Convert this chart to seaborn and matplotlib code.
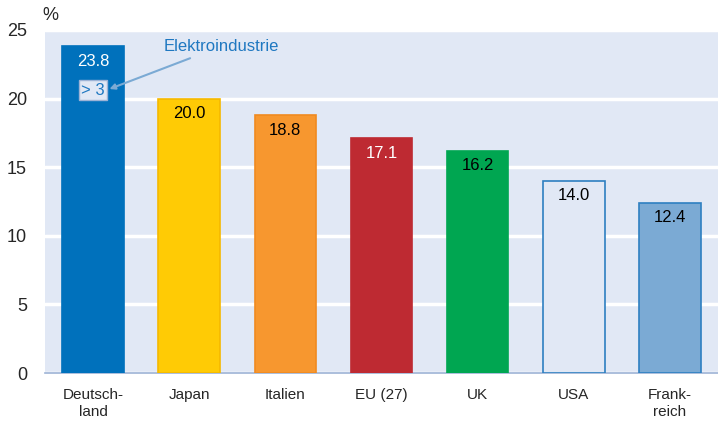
import matplotlib
matplotlib.use("Agg")
import matplotlib.pyplot as plt
import seaborn as sns
import pandas as pd

categories = ["Deutsch-\nland", "Japan", "Italien", "EU (27)", "UK", "USA", "Frank-\nreich"]
values = [23.8, 20.0, 18.8, 17.1, 16.2, 14.0, 12.4]
face_colors = ["#0071BC", "#FFCB05", "#F7972F", "#BE2A32", "#00A651", "#E1E8F5", "#7BAAD4"]
edge_colors = ["#0071BC", "#F5B800", "#F08A20", "#BE2A32", "#00A651", "#2E7FC1", "#2E7FC1"]
label_colors = ["white", "black", "black", "white", "black", "black", "black"]
yticks = [0, 5, 10, 15, 20, 25]

sns.set_theme(style="white")
plt.rcParams['font.family'] = ['Liberation Sans', 'DejaVu Sans']

df = pd.DataFrame({"cat": categories, "val": values})

fig = plt.figure(figsize=(7.18, 4.21), dpi=100)
ax = fig.add_axes([45/718, 1 - 373/421, 673/718, (373-30)/421])
bg = "#E1E8F5"
ax.set_facecolor(bg)

sns.barplot(data=df, x="cat", y="val", hue="cat", palette=face_colors, legend=False,
            width=0.64, ax=ax, saturation=1, zorder=3)
for p, ec in zip(ax.patches, edge_colors):
    p.set_edgecolor(ec)
    p.set_linewidth(1.2)

ax.set_ylim(0, 25)
ax.set_xlim(-0.5, 6.44)
ax.set_yticks(yticks)
ax.set_yticklabels([str(t) for t in yticks], fontsize=13)
ax.yaxis.grid(True, color="white", linewidth=2.5, zorder=1)
ax.set_axisbelow(True)
ax.tick_params(axis="y", length=0, pad=13)
ax.set_xticks([i - 0.5 for i in range(8)], minor=False)
ax.set_xticklabels([])
ax.set_xticks(range(7), minor=True)
ax.set_xticklabels(categories, minor=True, fontsize=11, linespacing=1.25)
ax.tick_params(axis="x", which="major", length=5, color="#9DB3D6", direction="out", width=1)
ax.tick_params(axis="x", which="minor", length=0, pad=11)
ax.set_xlabel("")
ax.set_ylabel("")
for s in ["left", "top", "right"]:
    ax.spines[s].set_visible(False)
ax.spines["bottom"].set_color("#9DB3D6")
ax.spines["bottom"].set_linewidth(1.2)

for i, (v, c) in enumerate(zip(values, label_colors)):
    ax.text(i, v - 0.55, f"{v:.1f}", ha="center", va="top", fontsize=12, color=c, zorder=5)

ax.text(0, 20.6, "> 3", ha="center", va="center", fontsize=12, color="#1F78C1", zorder=6,
        bbox=dict(boxstyle="square,pad=0.15", facecolor=bg, edgecolor="#9DB3D6", linewidth=1))
ax.annotate("Elektroindustrie", xy=(0.17, 20.7), xytext=(0.73, 23.8),
            fontsize=12, color="#1F78C1", ha="left", va="center", zorder=6,
            arrowprops=dict(arrowstyle="-|>", color="#7BAAD4", lw=1.5, shrinkA=2, shrinkB=0,
                            mutation_scale=8))

fig.text(42/718, 1 - 16/421, "%", fontsize=13, ha="left", va="center")

fig.savefig("out.png", dpi=100)
